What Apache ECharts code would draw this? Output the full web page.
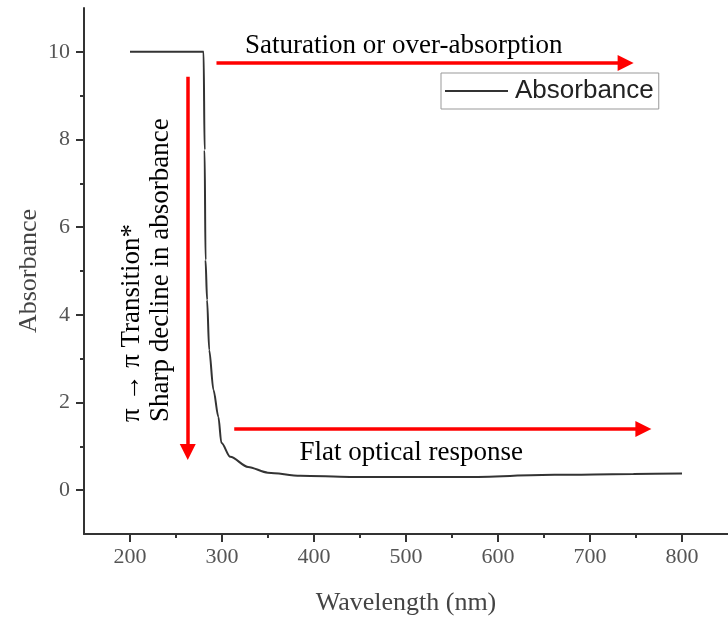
<!DOCTYPE html>
<html>
<head>
<meta charset="utf-8">
<script src="https://cdn.jsdelivr.net/npm/echarts@6/dist/echarts.min.js"></script>
<style>
	html, body { margin: 0; padding: 0; background: #fff; }
	#chart { width: 728px; height: 622px; }
</style>
</head>
<body>
<div id="chart"></div>
<script>
// 吸收光谱数据
const wavelength = [200, 240, 270, 280, 281.1, 282.1, 283.8, 286.1, 290.7, 296.1,
	299.3, 309, 328.3, 349.8, 385.3, 439, 500, 564.7, 661.4, 747.3, 800];
const absorbance = [10, 10, 10, 10, 7.76, 5.25, 4.34, 3.2, 2.29, 1.67,
	1.08, 0.76, 0.53, 0.40, 0.33, 0.30, 0.30, 0.30, 0.35, 0.37, 0.38];

// 刻度
const x_major = [200, 300, 400, 500, 600, 700, 800];
const x_minor = [250, 350, 450, 550, 650, 750];
const y_major = [0, 2, 4, 6, 8, 10];
const y_minor = [1, 3, 5, 7, 9];

// 红色箭头（起点、终点，数据坐标）
const arrows = [
	[[294, 9.745], [738.7, 9.745]],
	[[262.8, 9.43], [262.8, 0.87]],
	[[313.3, 1.395], [758, 1.395]]
];

// 标注文字
const notes = [
	{ text: "Saturation or over-absorption", at: [325.1, 10.13], rotate: false },
	{ text: "Flat optical response", at: [384.2, 0.847], rotate: false },
	{ text: "π → π Transition*", at: [201.6, 1.555], rotate: true },
	{ text: "Sharp decline in absorbance", at: [233.8, 1.555], rotate: true }
];

const SERIF = "'Liberation Serif', 'Times New Roman', serif";
const AXIS_COLOR = "#333";

function x_axis(show_label, ticks, len) {
	return {
		type: "value",
		min: 150,
		max: 850,
		position: "bottom",
		axisLine: { show: show_label, onZero: false,
			lineStyle: { color: AXIS_COLOR, width: 2 } },
		splitLine: { show: false },
		axisTick: { show: true, length: len, customValues: ticks,
			lineStyle: { color: AXIS_COLOR, width: 2 } },
		axisLabel: { show: show_label, customValues: x_major, margin: 12,
			color: "#555", fontFamily: SERIF, fontSize: 22 },
		name: show_label ? "Wavelength (nm)" : "",
		nameLocation: "middle",
		nameGap: 56,
		nameMoveOverlap: false,
		nameTextStyle: { color: "#444", fontFamily: SERIF, fontSize: 26 }
	};
}

function y_axis(show_label, ticks, len) {
	return {
		type: "value",
		min: -1,
		max: 11,
		position: "left",
		axisLine: { show: show_label, onZero: false,
			lineStyle: { color: AXIS_COLOR, width: 2 } },
		splitLine: { show: false },
		axisTick: { show: true, length: len, customValues: ticks,
			lineStyle: { color: AXIS_COLOR, width: 2 } },
		axisLabel: { show: show_label, customValues: y_major, margin: 14,
			color: "#555", fontFamily: SERIF, fontSize: 22 },
		name: show_label ? "Absorbance" : "",
		nameLocation: "middle",
		nameGap: 42,
		nameMoveOverlap: false,
		nameTextStyle: { color: "#444", fontFamily: SERIF, fontSize: 26 }
	};
}

const option = {
	animation: false,
	grid: { left: 84, right: -8, top: 8, bottom: 88 },
	xAxis: [x_axis(true, x_major, 8), x_axis(false, x_minor, 4)],
	yAxis: [y_axis(true, y_major, 8), y_axis(false, y_minor, 4)],
	legend: {
		left: 441,
		top: 73,
		padding: [5, 5, 5, 4],
		itemWidth: 63,
		itemHeight: 2,
		itemGap: 0,
		icon: "rect",
		borderColor: "#999",
		borderWidth: 1,
		textStyle: { color: "#222", fontFamily: "'Liberation Sans', Arial, sans-serif",
			fontSize: 26, padding: [0, 0, 0, 2] },
		data: ["Absorbance"]
	},
	series: [{
		name: "Absorbance",
		type: "line",
		data: wavelength.map((v, i) => [v, absorbance[i]]),
		symbol: "none",
		smooth: 0.3,
		smoothMonotone: "x",
		lineStyle: { color: "#333", width: 2 },
		itemStyle: { color: "#333" },
		markLine: {
			silent: true,
			symbol: ["none", "triangle"],
			symbolSize: 16,
			label: { show: false },
			lineStyle: { color: "#ff0000", width: 3.5, type: "solid" },
			emphasis: { disabled: true },
			data: arrows.map(a => [{ coord: a[0] }, { coord: a[1] }])
		}
	}]
};

const chart = echarts.init(document.getElementById("chart"));
chart.setOption(option);

// 标注文字按数据坐标放置
chart.setOption({
	graphic: notes.map(n => {
		const p = chart.convertToPixel({ gridIndex: 0 }, n.at);
		return {
			type: "text",
			x: p[0],
			y: p[1],
			rotation: n.rotate ? Math.PI / 2 : 0,
			style: {
				text: n.text,
				fill: "#000",
				font: "27px " + SERIF,
				align: "left",
				verticalAlign: "middle"
			}
		};
	})
});
window.addEventListener("resize", chart.resize);
</script>
</body>
</html>
